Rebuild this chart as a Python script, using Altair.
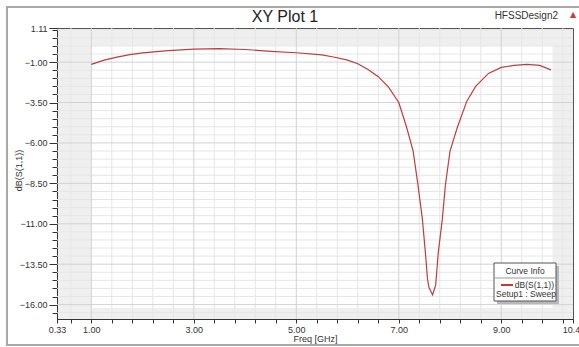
import altair as alt
import pandas as pd

# ---- data ----
FREQ = [1.0, 1.25, 1.5, 1.75, 2.0, 2.5, 3.0, 3.5, 4.0, 4.5, 5.0, 5.5, 5.75, 6.0, 6.2,
        6.4, 6.6, 6.8, 7.0, 7.15, 7.28, 7.37, 7.46, 7.52, 7.56, 7.59, 7.66, 7.72,
        7.77, 7.85, 7.91, 8.0, 8.14, 8.33, 8.5, 8.75, 9.0, 9.25, 9.5, 9.75, 9.97]
S11 = [-1.14, -0.88, -0.69, -0.54, -0.43, -0.29, -0.20, -0.17, -0.22, -0.33, -0.42,
       -0.55, -0.70, -0.88, -1.10, -1.45, -1.90, -2.55, -3.50, -5.00, -6.50, -8.50,
       -10.70, -12.80, -14.40, -14.95, -15.40, -14.80, -12.80, -10.70, -8.60, -6.50,
       -5.06, -3.40, -2.50, -1.70, -1.33, -1.20, -1.14, -1.20, -1.48]
SERIES = "dB(S(1,1))"
SETUP = "Setup1 : Sweep"
TITLE = "XY Plot 1"
DESIGN = "HFSSDesign2"
X_TITLE = "Freq [GHz]"
Y_TITLE = "dB(S(1,1))"
LEGEND_TITLE = "Curve Info"

X_DOMAIN = [0.33, 10.4]
Y_DOMAIN = [-16.89, 1.11]
X_LABEL_TICKS = [0.33, 1.0, 3.0, 5.0, 7.0, 9.0, 10.4]
X_MAJOR_GRID = [1.0, 3.0, 5.0, 7.0, 9.0]
X_MINOR_GRID = [0.6, 1.4, 1.8, 2.2, 2.6, 3.4, 3.8, 4.2, 4.6, 5.4, 5.8, 6.2, 6.6,
                7.4, 7.8, 8.2, 8.6, 9.4, 9.8, 10.2]
Y_LABEL_TICKS = [1.11, -1.0, -3.5, -6.0, -8.5, -11.0, -13.5, -16.0]
Y_MAJOR_GRID = [-1.0, -3.5, -6.0, -8.5, -11.0, -13.5, -16.0]
Y_MINOR_GRID = [1.0, 0.5, 0.0, -0.5, -1.5, -2.0, -2.5, -3.0, -4.0, -4.5, -5.0, -5.5,
                -6.5, -7.0, -7.5, -8.0, -9.0, -9.5, -10.0, -10.5, -11.5, -12.0,
                -12.5, -13.0, -14.0, -14.5, -15.0, -15.5, -16.5]
DATA_REGION_X = [1.0, 10.0]
DATA_REGION_Y = [0.0, -16.2]

W, H = 516, 291
FONT = "Liberation Sans"
TXT = "#333333"
CURVE = "#c23b3b"

xs = alt.Scale(domain=X_DOMAIN, nice=False, zero=False)
ys = alt.Scale(domain=Y_DOMAIN, nice=False, zero=False)

curve_df = pd.DataFrame({"f": FREQ, "db": S11, "s": [SERIES] * len(FREQ)})

x_vals = sorted(X_LABEL_TICKS + X_MINOR_GRID)
y_vals = sorted(Y_LABEL_TICKS + Y_MINOR_GRID, reverse=True)
x_lab_list = "[" + ",".join(str(v) for v in X_LABEL_TICKS) + "]"
y_lab_list = "[" + ",".join(str(v) for v in Y_LABEL_TICKS) + "]"
x_last = X_LABEL_TICKS[-1]

x_axis = alt.Axis(
    values=x_vals, grid=False, title=X_TITLE,
    labelExpr=(f"datum.value == {x_last} ? '{x_last}' : "
               f"(indexof({x_lab_list}, datum.value) >= 0 ? format(datum.value, '.2f') : '')"),
    labelOverlap=False, labelFlush=False, labelBound=False,
    labelOffset={"condition": {"test": f"datum.value == {x_last}", "value": -2}, "value": 0},
    labelFont=FONT, labelFontSize=9, labelColor=TXT, labelPadding=2,
    tickSize=4, tickColor=TXT, domainColor=TXT,
    titleFont=FONT, titleFontSize=9, titleFontWeight="normal", titleColor=TXT,
    titleX=258, titleY=15, titleBaseline="top", titleAlign="center",
)
y_axis = alt.Axis(
    values=y_vals, grid=False, title=Y_TITLE,
    labelExpr=f"indexof({y_lab_list}, datum.value) >= 0 ? format(datum.value, '.2f') : ''",
    labelOverlap=False, labelFlush=False, labelBound=False,
    labelFont=FONT, labelFontSize=9, labelColor=TXT, labelPadding=2,
    tickSize={"condition": {"test": f"indexof({y_lab_list}, datum.value) >= 0", "value": 8}, "value": 5},
    tickColor=TXT, domainColor=TXT,
    titleFont=FONT, titleFontSize=9, titleFontWeight="normal", titleColor=TXT,
    titleX=-39, titleY=142, titleAngle=-90, titleBaseline="middle", titleAlign="center",
)

# white data region over the gray plot background (carries both axes)
region = alt.Chart(pd.DataFrame({
    "x1": [DATA_REGION_X[0]], "x2": [DATA_REGION_X[1]],
    "y1": [DATA_REGION_Y[0]], "y2": [DATA_REGION_Y[1]]})).mark_rect(color="white").encode(
    x=alt.X("x1:Q", scale=xs, axis=x_axis), x2="x2:Q",
    y=alt.Y("y1:Q", scale=ys, axis=y_axis), y2="y2:Q")

def vgrid(vals, color):
    return alt.Chart(pd.DataFrame({"v": vals})).mark_rule(color=color, strokeWidth=1).encode(
        x=alt.X("v:Q", scale=xs, axis=x_axis))

def hgrid(vals, color):
    return alt.Chart(pd.DataFrame({"v": vals})).mark_rule(color=color, strokeWidth=1).encode(
        y=alt.Y("v:Q", scale=ys, axis=y_axis))

grid_minor_v = vgrid(X_MINOR_GRID, "#e6e6e6")
grid_minor_h = hgrid(Y_MINOR_GRID, "#e6e6e6")
grid_major_v = vgrid(X_MAJOR_GRID, "#d2d2d2")
grid_major_h = hgrid(Y_MAJOR_GRID, "#d2d2d2")

line = alt.Chart(curve_df).mark_line(color=CURVE, strokeWidth=1.2).encode(
    x=alt.X("f:Q", scale=xs, axis=x_axis),
    y=alt.Y("db:Q", scale=ys, axis=y_axis),
)

one = pd.DataFrame({"k": [0]})

frame = alt.Chart(one).mark_rect(fill=None, fillOpacity=0, stroke="#a8a8a8", strokeWidth=2).encode(
    x=alt.value(-50), x2=alt.value(580), y=alt.value(-21), y2=alt.value(317))

title = alt.Chart(one).mark_text(text=TITLE, font=FONT, fontSize=16, color="#222222",
                                 align="center", baseline="middle").encode(
    x=alt.value(228), y=alt.value(-11))
design = alt.Chart(one).mark_text(text=DESIGN, font=FONT, fontSize=10, color=TXT,
                                  align="right", baseline="middle").encode(
    x=alt.value(501), y=alt.value(-12))
tri = alt.Chart(one).mark_text(text="▲", font="DejaVu Sans", fontSize=8, color="#cc3a3a",
                               align="center", baseline="middle").encode(
    x=alt.value(516), y=alt.value(-13))

# legend box ("Curve Info")
shadow = alt.Chart(one).mark_rect(color="#b8b8b8").encode(
    x=alt.value(440), x2=alt.value(502), y=alt.value(238), y2=alt.value(276))
box = alt.Chart(one).mark_rect(fill="white", stroke="#555555", strokeWidth=1).encode(
    x=alt.value(437), x2=alt.value(499), y=alt.value(235), y2=alt.value(273))
sep = alt.Chart(one).mark_rule(color="#999999", strokeWidth=1).encode(
    x=alt.value(437), x2=alt.value(499), y=alt.value(250))
leg_title = alt.Chart(one).mark_text(text=LEGEND_TITLE, font=FONT, fontSize=8.5, color=TXT,
                                     align="center", baseline="middle").encode(
    x=alt.value(468), y=alt.value(243))
leg_line = alt.Chart(one).mark_rule(color=CURVE, strokeWidth=2).encode(
    x=alt.value(444), x2=alt.value(456), y=alt.value(257))
leg_name = alt.Chart(one).mark_text(text=SERIES, font=FONT, fontSize=8.5, color=TXT,
                                    align="right", baseline="middle").encode(
    x=alt.value(497), y=alt.value(257))
leg_setup = alt.Chart(one).mark_text(text=SETUP, font=FONT, fontSize=8.5, color=TXT,
                                     align="left", baseline="middle").encode(
    x=alt.value(439), y=alt.value(266))

chart = alt.layer(
    region, grid_minor_v, grid_minor_h, grid_major_v, grid_major_h, line,
    frame, title, design, tri, shadow, box, sep, leg_title, leg_line, leg_name, leg_setup,
).properties(
    width=W, height=H,
    autosize=alt.AutoSizeParams(type="none"),
    padding={"left": 57, "top": 28, "right": 579 - 57 - W, "bottom": 347 - 28 - H},
    background="white",
).configure_view(fill="#efefef", stroke="#555555", strokeWidth=1)

chart.save("out.html", embed_options={"renderer": "svg", "actions": False})
